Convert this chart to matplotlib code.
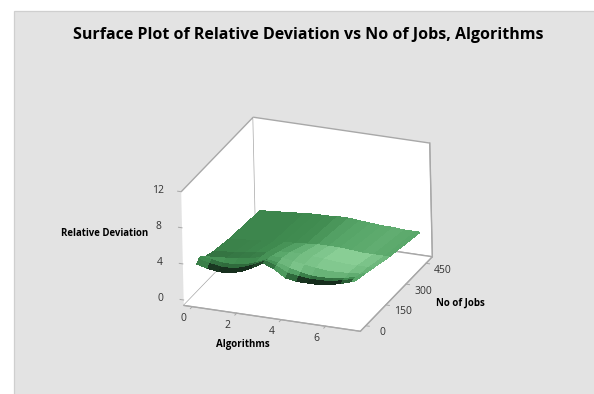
import numpy as np
import matplotlib
matplotlib.use('Agg')
import matplotlib.pyplot as plt
from matplotlib.colors import LinearSegmentedColormap
from matplotlib.patches import Rectangle
from mpl_toolkits.mplot3d import proj3d

plt.rcParams['font.family'] = ['Open Sans', 'DejaVu Sans']

algorithms = [0, 0.5, 1, 1.5, 2, 2.5, 3, 3.5, 4, 4.5, 5, 5.5, 6, 6.5, 7, 7.2]
jobs = [0, 15, 30, 60, 120, 240, 470]
# relative deviation, one row per jobs value
deviation = [
    [3.5, 3.2, 3.0, 3.1, 3.4, 4.0, 4.7, 4.2, 3.4, 3.2, 3.2, 3.2, 3.4, 3.7, 4.1, 4.3],
    [3.8, 3.5, 3.3, 3.3, 3.6, 4.1, 4.7, 4.3, 3.7, 3.5, 3.4, 3.4, 3.5, 3.8, 4.1, 4.3],
    [3.9, 3.7, 3.5, 3.5, 3.7, 4.1, 4.6, 4.4, 4.0, 3.7, 3.5, 3.5, 3.6, 3.8, 4.1, 4.2],
    [3.4, 3.5, 3.6, 3.7, 3.9, 4.2, 4.5, 4.5, 4.3, 4.1, 3.9, 3.8, 3.8, 3.9, 4.0, 4.1],
    [3.0, 3.2, 3.3, 3.5, 3.7, 3.9, 4.1, 4.2, 4.2, 4.1, 4.0, 3.9, 3.8, 3.8, 3.8, 3.8],
    [2.6, 2.7, 2.8, 2.9, 3.0, 3.1, 3.2, 3.3, 3.4, 3.4, 3.4, 3.3, 3.2, 3.2, 3.2, 3.2],
    [2.2, 2.3, 2.4, 2.5, 2.6, 2.7, 2.7, 2.8, 2.8, 2.7, 2.6, 2.5, 2.5, 2.4, 2.4, 2.4],
]
# lightness of the surface as seen in the picture, same grid
lightness = [
    [.35, .06, .03, .03, .03, .10, .30, .50, .25, .05, .02, .02, .02, .20, .60, .60],
    [.40, .28, .25, .25, .25, .30, .45, .65, .55, .35, .28, .28, .30, .40, .60, .60],
    [.45, .45, .42, .40, .40, .45, .55, .75, .85, .75, .70, .70, .70, .65, .60, .60],
    [.30, .30, .32, .33, .35, .45, .60, .72, .80, .85, .90, .90, .90, .80, .70, .65],
    [.36, .36, .37, .38, .40, .46, .55, .68, .80, .88, .95, .95, .95, .85, .75, .70],
    [.38, .38, .38, .38, .40, .41, .42, .48, .55, .58, .60, .62, .65, .62, .60, .58],
    [.40, .40, .40, .40, .40, .45, .50, .50, .50, .50, .50, .50, .50, .50, .50, .50],
]

x_ticks = [0, 2, 4, 6]
y_ticks = [0, 150, 300, 450]
z_ticks = [0, 4, 8, 12]
x_min, x_max = -0.38, 7.56
y_min, y_max = -40, 497
z_min, z_max = -0.6, 12

X, Y = np.meshgrid(algorithms, jobs)
Z = np.array(deviation, dtype=float)

fig = plt.figure(figsize=(5.94, 3.94), dpi=100, facecolor='white')
# grey panel, its right and bottom edges run off the figure
fig.add_artist(Rectangle((13.5 / 594, -10 / 394), 600 / 594, 393.5 / 394, transform=fig.transFigure,
                         facecolor='#e3e3e3', edgecolor='#cfcfcf', linewidth=0.9, zorder=-5))

ax = fig.add_axes([0.1 + 5.5 / 594, 0.1 - 31.5 / 394, 0.8, 0.8], projection='3d')
ax.patch.set_alpha(0)
ax.set_proj_type('ortho')
ax.view_init(elev=24.2, azim=-67.5, roll=1.3)
ax.set_box_aspect((192, 194, 125.7), zoom=0.918)
ax.set_xlim(x_min, x_max)
ax.set_ylim(y_min, y_max)
ax.set_zlim(z_min, z_max)

green = LinearSegmentedColormap.from_list(
    'green', [(0, '#14281a'), (0.25, '#2f6a3c'), (0.4, '#3f8a4f'), (0.6, '#5aa86b'), (1, '#8fd39b')])
colors = green(np.array(lightness))

ax.plot_surface(X, Y, Z, facecolors=colors, rstride=1, cstride=1, shade=False,
                linewidth=0, antialiased=False)

for axis in (ax.xaxis, ax.yaxis, ax.zaxis):
    axis.set_pane_color((1, 1, 1, 1))
    axis.pane.set_edgecolor('#a8a8a8')
    axis.pane.set_linewidth(1.0)
    axis.line.set_color('#a8a8a8')
ax.grid(False)
ax.set_xticks([])
ax.set_yticks([])
ax.set_zticks([])


def tick_label(x, y, z, s):
    # project to the 2D plane so the text sits at its real place
    px, py, _ = proj3d.proj_transform(x, y, z, ax.get_proj())
    ax.text2D(px, py, s, transform=ax.transData, ha='center', va='center',
              fontsize=7.5, color='#333333')


# ticks and their labels by hand, the default ones land too far from the axes
tick_style = dict(color='#a8a8a8', linewidth=0.7)
for t in x_ticks:
    ax.plot([t, t], [y_min, y_min - 14], [z_min, z_min], **tick_style)
    tick_label(t, y_min - 68, z_min - 0.3, str(t))
for t in y_ticks:
    ax.plot([x_max, x_max + 0.16], [t, t], [z_min, z_min], **tick_style)
    tick_label(x_max + 0.76, t, z_min - 0.5, str(t))
for t in z_ticks:
    ax.plot([x_min, x_min - 0.16], [y_min, y_min], [t, t], **tick_style)
    tick_label(x_min - 1.04, y_min, t - 0.2, str(t))

fig.text(308 / 594, 1 - 35 / 394, 'Surface Plot of Relative Deviation vs No of Jobs, Algorithms',
         ha='center', va='center', fontsize=11.5, fontweight='bold', color='black')
fig.text(105 / 594, 1 - 233 / 394, 'Relative Deviation', ha='center', va='center',
         fontsize=6.9, fontweight='bold', color='black')
fig.text(243 / 594, 1 - 345 / 394, 'Algorithms', ha='center', va='center',
         fontsize=7, fontweight='bold', color='black')
fig.text(460 / 594, 1 - 303 / 394, 'No of Jobs', ha='center', va='center',
         fontsize=7, fontweight='bold', color='black')

fig.savefig('out.png', dpi=100)
